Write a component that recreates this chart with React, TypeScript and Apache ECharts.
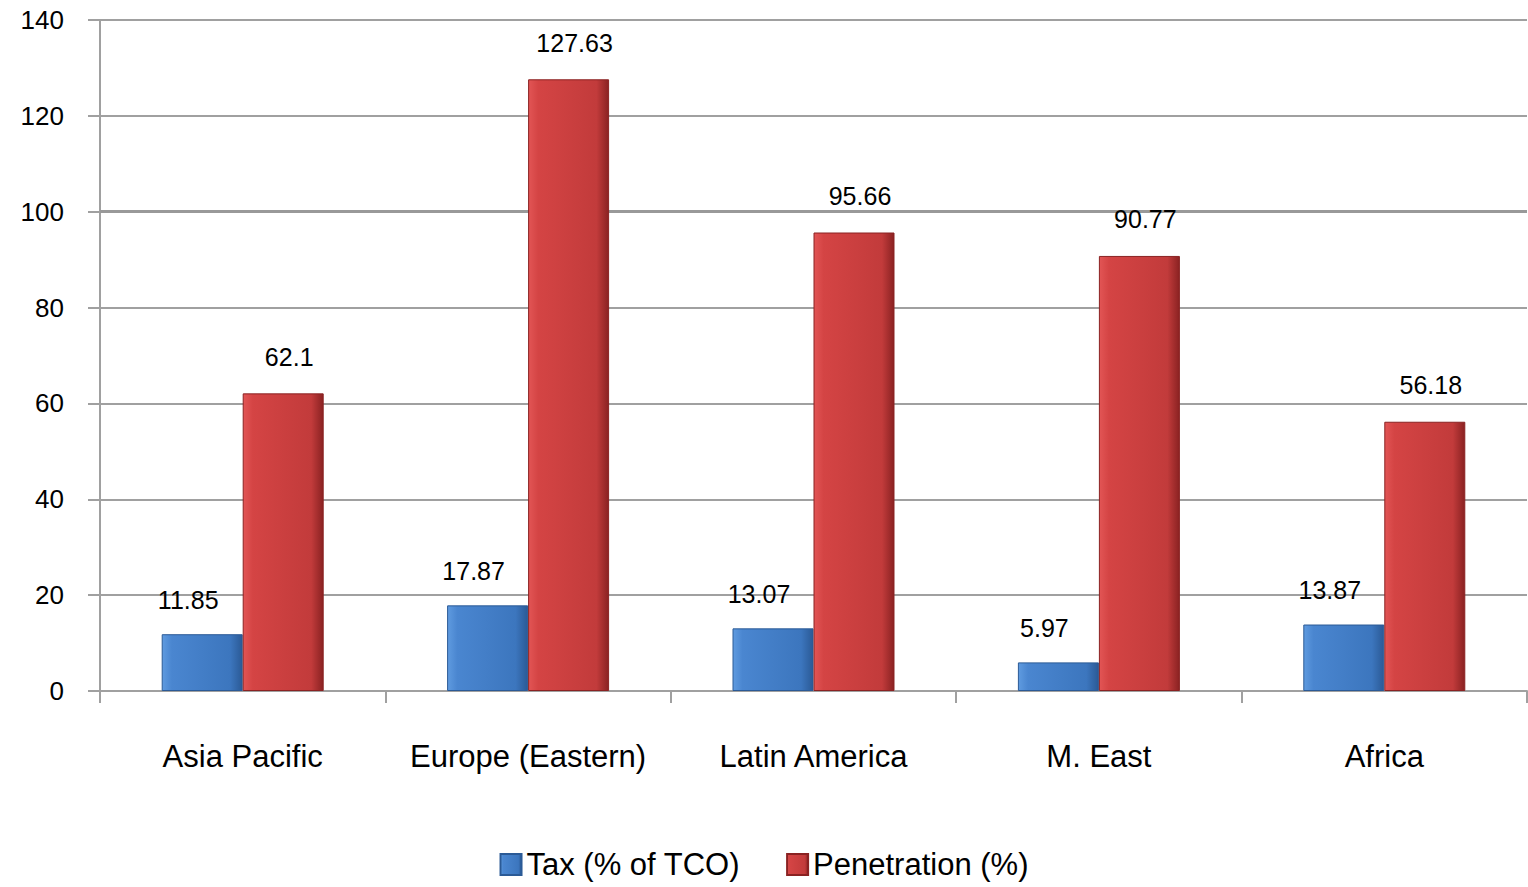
import React, { useEffect, useRef } from "react";
import * as echarts from "echarts";

const categories = ["Asia Pacific", "Europe (Eastern)", "Latin America", "M. East", "Africa"];
const taxValues = [11.85, 17.87, 13.07, 5.97, 13.87];
const penetrationValues = [62.1, 127.63, 95.66, 90.77, 56.18];
const yTicks = { min: 0, max: 140, interval: 20 };

const FONT = "'Liberation Sans', 'DejaVu Sans', sans-serif";

const blueGrad = new echarts.graphic.LinearGradient(0, 0, 1, 0, [
  { offset: 0, color: "#5f9be0" },
  { offset: 0.12, color: "#4a86d0" },
  { offset: 0.85, color: "#3c76be" },
  { offset: 1, color: "#2b5a96" },
]);
const redGrad = new echarts.graphic.LinearGradient(0, 0, 1, 0, [
  { offset: 0, color: "#e25555" },
  { offset: 0.12, color: "#d44444" },
  { offset: 0.85, color: "#c23b3b" },
  { offset: 1, color: "#8a2222" },
]);

export default function App() {
  const ref = useRef<HTMLDivElement>(null);
  useEffect(() => {
    document.body.style.margin = "0";
    const chart = echarts.init(ref.current!, null, { renderer: "svg" });
    chart.setOption({
      animation: false,
      backgroundColor: "#ffffff",
      textStyle: { fontFamily: FONT },
      grid: { left: 100, right: 1, top: 20, bottom: 196 },
      legend: {
        bottom: 2,
        left: "center",
        itemWidth: 21,
        itemHeight: 21,
        itemGap: 46,
        icon: "rect",
        textStyle: { fontSize: 31, color: "#000", fontFamily: FONT },
        data: ["Tax (% of TCO)", "Penetration (%)"],
      },
      xAxis: {
        type: "category",
        data: categories,
        axisLine: { lineStyle: { color: "#a0a0a0", width: 2 } },
        axisTick: { show: true, length: 12, lineStyle: { color: "#a0a0a0", width: 2 } },
        axisLabel: { interval: 0, fontSize: 31, color: "#000", margin: 50, fontFamily: FONT },
      },
      yAxis: {
        type: "value",
        min: yTicks.min,
        max: yTicks.max,
        interval: yTicks.interval,
        axisLine: { show: true, lineStyle: { color: "#a0a0a0", width: 2 } },
        axisTick: { show: true, length: 12, lineStyle: { color: "#a0a0a0", width: 2 } },
        axisLabel: { fontSize: 26, color: "#000", margin: 36, fontFamily: FONT },
        splitLine: { lineStyle: { color: "#a0a0a0", width: 2 } },
      },
      series: [
        {
          name: "Tax (% of TCO)",
          type: "bar",
          data: taxValues,
          barWidth: 81,
          barGap: "0%",
          z: 3,
          itemStyle: { color: blueGrad, borderColor: "#2b5a96", borderWidth: 1 },
          label: { show: true, position: "top", distance: 22, offset: [-14, 0], fontSize: 25, color: "#000", fontFamily: FONT },
          markLine: {
            silent: true,
            z: 1,
            symbol: "none",
            label: { show: false },
            lineStyle: { color: "#999", width: 3, type: "solid" },
            data: [{ yAxis: 100 }],
          },
        },
        {
          name: "Penetration (%)",
          type: "bar",
          data: penetrationValues,
          barWidth: 81,
          barGap: "0%",
          z: 3,
          itemStyle: { color: redGrad, borderColor: "#8a2222", borderWidth: 1 },
          label: { show: true, position: "top", distance: 24, offset: [6, 0], fontSize: 25, color: "#000", fontFamily: FONT },
        },
      ],
    });
    return () => chart.dispose();
  }, []);
  return <div ref={ref} style={{ width: 1528, height: 887 }} />;
}
